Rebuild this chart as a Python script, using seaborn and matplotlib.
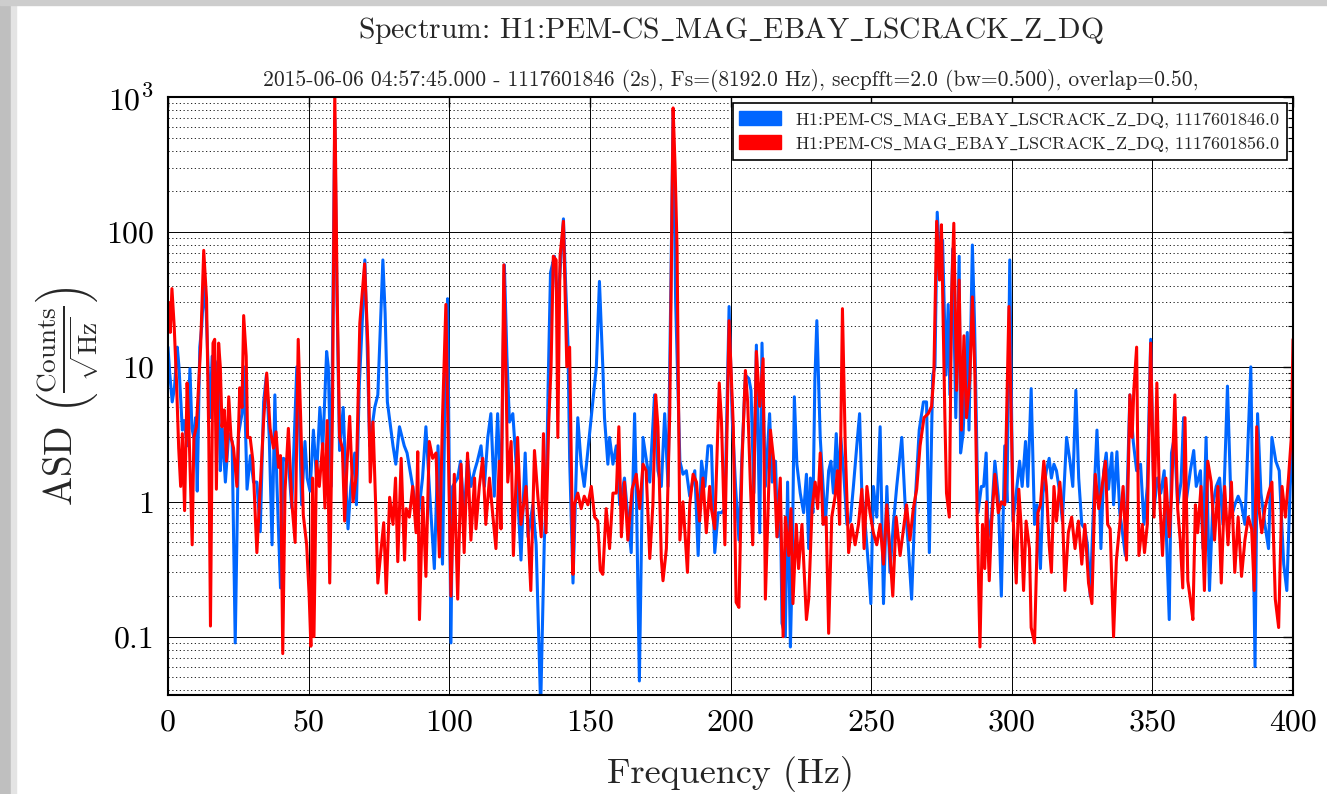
import matplotlib
matplotlib.use("Agg")
import matplotlib.pyplot as plt
from matplotlib.patches import Patch, Rectangle
from matplotlib.ticker import LogLocator, FixedLocator, FixedFormatter, NullFormatter
import seaborn as sns
import pandas as pd

# ---------------- data (frequency Hz, ASD counts/sqrt(Hz)) ----------------
blue_0_100 = [(0.0,14),(0.6,9),(1.5,5.5),(2.3,7),(3.3,14),(3.9,10),(5.1,3.4),(5.8,4),(6.8,2.6),(7.8,9.7),
    (8.5,3.5),(9.2,3),(9.8,4.2),(10.4,1.2),(11.3,14),(12.0,20),(12.7,40),(13.6,25),(14.9,4.2),(15.7,12),
    (16.5,8),(17.7,11),(18.6,1.7),(19.3,3.5),(20.4,1.4),(21.6,3.2),(22.8,2.8),(23.9,0.09),(25.1,3.2),(26.3,4.5),
    (27.0,10),(28.1,1.24),(29.3,2.2),(30.4,1.4),(31.6,1.4),(32.8,0.6),(34.0,5.5),(35.0,8.7),(36.0,3),(37.0,0.48),
    (38.0,6.2),(38.7,1.4),(40.0,0.23),(41.0,2.1),(42.8,2),(44.0,0.9),(45.8,10),(46.6,5),(47.5,0.95),(48.7,2.8),
    (49.5,1.5),(50.5,1.2),(51.7,3.4),(52.8,1.5),(54.0,5),(55.0,2.4),(56.4,13),(57.0,10),(58.0,1.3),(59.3,700),
    (60.1,30),(61.0,2.4),(62.3,5),(63.4,1.16),(64.0,0.63),(65.0,1.3),(66.4,2.3),(67.0,0.95),(68.0,7.2),(69.0,20),
    (70.0,62),(70.8,15),(71.7,2.6),(73.5,5),(74.6,6.2),(75.5,20),(76.4,62),(77.2,25),(78.0,5.5),(80.0,2.6),
    (81.0,1.9),(82.3,3.6),(84.0,2.6),(85.0,2.3),(87.0,1.3),(88.8,0.72),(90.5,1.5),(91.7,3.6),(93.0,1.2),(94.7,0.32),
    (96.0,2.6),(97.6,0.345),(98.6,8),(99.4,32)]
blue_100_200 = [(100.6,0.09),(101.2,1.3),(103.0,1.5),(104.0,2),(105.3,0.77),(106.5,2.1),(107.7,1.3),(109.0,1.7),
    (110.0,2),(111.3,2.6),(112.5,1.3),(113.7,3),(114.8,4.5),(116.0,1.1),(117.2,4.5),(118.4,0.95),(119.6,57),(120.5,12),
    (121.4,3.9),(122.6,4.5),(123.8,1.9),(125.5,0.37),(127.0,2.3),(128.0,0.55),(129.7,0.95),(130.9,0.48),(132.5,0.03),
    (133.8,0.52),(134.4,0.89),(135.2,8),(136.0,50),(137.4,66),(138.4,30),(139.2,44),(140.6,125),(141.4,40),(142.2,15),
    (142.8,2.1),(144.0,0.25),(145.7,4.2),(146.9,1.9),(148.0,1.3),(149.3,2.4),(150.5,4.2),(152.3,10),(153.4,43),
    (154.6,10),(155.2,4.2),(156.4,1.9),(157.0,3),(158.2,1.9),(159.4,2.6),(160.6,0.95),(162.3,1.5),(163.5,0.77),
    (164.7,0.42),(165.9,4.5),(166.5,1.3),(167.6,0.047),(168.9,3),(170.0,2.1),(171.3,1.4),(173.0,6.2),(174.2,1.7),
    (175.4,1.3),(176.6,4.5),(177.8,1.3),(178.8,40),(179.6,800),(180.5,30),(182.0,2),(183.1,1.6),(184.3,1.7),
    (185.5,1.1),(187.3,1.7),(188.5,0.4),(189.7,2),(190.9,1.3),(192.0,2.6),(193.2,2.6),(194.4,0.42),(195.6,0.83),
    (196.8,0.83),(198.0,0.89),(199.5,28)]
blue_200_300 = [(200.6,4.2),(201.8,1.3),(203.0,0.52),(204.0,2),(205.3,8.7),(206.5,8.2),(207.3,6.7),(208.3,1.16),
    (209.2,14.5),(210.4,0.59),(211.2,15),(212.4,1.3),(213.9,4.5),(214.8,1.4),(216.0,2),(216.8,0.55),(217.7,1.16),
    (218.3,0.126),(219.5,0.1),(220.3,1.4),(221.3,0.084),(221.9,0.3),(222.7,6),(223.6,1.9),(224.8,1.16),(226.0,0.83),
    (227.0,1.6),(227.8,0.45),(228.4,1.5),(229.3,0.83),(230.0,8),(230.7,22),(231.9,3),(232.9,1.3),(233.7,0.68),
    (234.9,1.7),(235.7,2),(236.6,1.16),(237.6,3.2),(238.4,1.3),(239.2,3),(240.2,1.7),(241.4,0.68),(242.6,0.72),
    (243.7,1.3),(244.9,2.6),(245.9,4.5),(246.7,1.16),(247.9,0.68),(249.0,0.345),(249.9,0.176),(250.8,1.3),(252.0,0.77),
    (253.2,3.6),(254.4,0.176),(255.6,1.3),(256.7,0.3),(257.9,0.68),(259.1,1.3),(260.9,3),(262.1,0.95),(263.2,0.48),
    (264.4,0.19),(265.6,0.95),(267.1,3.4),(268.6,5.5),(269.7,5.5),(270.7,0.42),(271.9,8.7),(272.7,10),(273.5,140),
    (274.5,54),(275.4,87),(276.6,8.7),(277.4,29),(278.0,6.2),(279.0,75),(280.1,4.2),(281.3,66),(281.8,2.3),(282.7,3.2),
    (284.2,18),(284.8,3.4),(286.0,80),(286.8,20),(288.0,0.83),(289.2,1.3),(290.0,1.3),(290.9,2.3),(291.6,0.55),
    (292.8,0.77),(294.0,2),(295.2,1.1),(296.3,0.2),(297.5,2.6),(298.3,1),(299.3,62)]
blue_300_400 = [(300.4,0.72),(301.6,1.16),(302.8,2),(303.7,1.3),(304.9,2.8),(305.7,1.3),(306.9,6.9),(308.1,0.68),
    (309.0,0.95),(310.2,0.32),(311.1,1.16),(312.3,1.7),(313.3,2.1),(314.1,1.5),(315.0,1.9),(315.9,1.7),(316.9,1.24),
    (318.0,0.72),(319.5,3),(320.7,2),(321.7,1.3),(322.8,6.7),(323.8,1.5),(324.9,0.68),(326.0,0.63),(326.9,0.48),
    (327.9,0.2),(329.1,0.95),(330.3,3.4),(331.2,1.16),(331.7,0.45),(332.7,1.7),(333.6,2.3),(334.4,1.24),(335.6,2.3),
    (336.2,0.95),(337.4,2.35),(338.4,0.83),(339.2,0.63),(340.4,0.4),(342.0,6.2),(343.2,2.8),(344.4,1.7),(345.8,1.9),
    (347.0,0.68),(348.2,1.3),(349.4,16),(350.6,0.89),(351.8,1.5),(353.0,1.16),(354.2,1.7),(356.0,0.134),(356.8,2.3),
    (357.8,3),(359.0,0.95),(360.2,1.4),(361.1,4.2),(362.0,1),(363.5,1.7),(364.7,2.4),(365.6,1.3),(367.1,1.7),
    (368.0,0.45),(369.1,3),(370.3,0.22),(371.5,0.95),(372.7,1.3),(373.9,1.5),(375.1,0.68),(376.7,7.2),(378.1,0.77),
    (379.3,0.95),(380.5,1.1),(381.7,0.95),(382.9,0.68),(385.0,10),(386.5,0.06),(387.4,4.5),(388.6,1.16),(390.0,0.68),
    (391.3,0.45),(392.5,3),(393.9,2),(395.1,1.7),(396.7,0.345),(397.8,0.22),(399.0,1.3),(400.0,3)]

red_0_100 = [(0.3,30),(0.8,18),(1.4,38),(2.2,20),(3.0,8),(3.8,2.5),(4.5,1.3),(5.1,3.2),(5.9,0.86),(6.8,7.6),
    (7.5,3.2),(8.6,0.48),(9.2,3),(10.1,3.6),(11.6,14),(12.7,73),(13.7,32),(14.5,3),(15.1,0.12),(16.0,15),
    (16.6,16),(17.2,1.24),(18.0,15),(18.6,10),(19.2,3.6),(20.0,4.8),(20.8,2),(21.6,6),(22.4,3),(23.3,2.5),
    (24.5,1.3),(25.5,7),(26.3,5),(26.9,24),(27.8,12),(28.3,3),(29.2,3),(30.2,2),(31.6,0.42),(32.8,1.3),
    (34.0,4),(35.1,9),(36.3,3.5),(37.5,2.5),(38.4,3.3),(39.3,1.8),(40.0,2.2),(40.8,0.075),(41.6,1.2),(42.8,3.5),
    (44.0,1),(45.2,0.5),(46.3,16),(47.2,4),(48.1,0.8),(49.3,0.48),(50.2,0.2),(50.8,0.085),(51.4,1.5),(51.9,0.1),
    (52.8,2),(53.8,1.3),(55.0,2.7),(55.8,0.9),(56.6,4),(57.5,0.25),(58.5,5),(59.3,1100),(60.1,40),(61.0,3),
    (62.0,2.5),(62.8,0.72),(63.7,2),(64.6,4.3),(65.8,1),(67.0,1.6),(68.2,21),(69.9,58),(71.1,14),(71.9,1.4),
    (72.9,3.9),(73.8,1),(74.6,0.25),(75.8,0.45),(76.7,0.7),(77.6,0.21),(78.8,1.08),(80.0,0.68),(80.9,1.5),(81.7,0.36),
    (82.9,2.1),(84.1,0.37),(84.7,0.89),(85.8,0.77),(87.0,1.3),(88.2,0.59),(88.8,2.35),(89.4,0.134),(90.6,1.08),
    (91.7,0.28),(92.9,2.8),(94.1,2.1),(95.3,2.3),(96.5,0.39),(97.6,4.2),(98.8,29),(99.6,3)]
red_100_200 = [(100.6,0.2),(101.8,1.6),(103.0,0.19),(104.2,1.9),(105.3,0.42),(106.5,2.3),(107.7,0.52),(109.0,1.5),
    (109.5,0.63),(110.7,1.3),(111.9,2.1),(113.0,0.68),(114.3,1.5),(115.4,0.83),(116.6,0.45),(117.8,2),(118.4,0.63),
    (119.4,57),(120.2,8),(120.8,1.4),(122.0,2.8),(122.8,0.4),(124.3,3),(125.5,0.68),(127.3,1.3),(129.0,0.22),
    (130.3,2.4),(131.5,1.1),(132.7,0.55),(133.5,3.2),(134.4,0.59),(135.4,4),(136.2,10),(137.0,66),(138.0,62),
    (138.6,3),(139.4,66),(140.6,120),(141.8,10),(142.8,14),(144.0,0.29),(144.5,0.95),(145.7,1.16),(146.9,0.89),
    (148.0,1.1),(149.3,0.95),(150.5,1.3),(151.7,0.77),(152.8,0.72),(153.7,0.31),(154.6,0.29),(155.8,0.89),(157.0,0.45),
    (158.2,1.16),(159.4,1.16),(160.3,3.6),(161.2,0.55),(162.3,1.4),(163.5,0.52),(165.0,1.24),(166.5,1.6),(167.7,0.89),
    (168.9,1.9),(170.0,1.7),(171.3,0.38),(172.4,0.95),(173.4,6.2),(174.2,3.6),(175.4,0.38),(176.0,0.26),(177.2,0.45),
    (178.4,4.5),(179.0,60),(179.6,830),(180.3,300),(181.0,75),(182.0,0.52),(183.1,1),(183.7,0.63),(184.7,0.3),
    (185.5,0.95),(186.7,1.6),(187.9,1.4),(189.0,0.72),(190.2,1.5),(191.4,0.59),(192.6,1.3),(193.2,0.89),(194.4,0.63),
    (196.0,7.6),(196.8,3.9),(198.0,0.48),(199.5,22)]
red_200_300 = [(201.0,3.6),(202.0,0.18),(203.0,0.165),(204.1,2),(205.3,9.4),(206.1,5.5),(207.1,1.3),(207.9,0.48),
    (209.2,13),(210.4,5.1),(211.6,11.5),(212.4,0.19),(214.2,3.4),(215.4,2),(216.5,0.55),(217.7,1.5),(218.7,0.1),
    (219.5,0.77),(220.7,0.4),(221.5,0.89),(222.2,0.176),(223.4,0.68),(224.2,0.32),(225.4,0.68),(227.0,0.134),
    (227.8,0.19),(229.0,0.89),(230.1,1.4),(231.0,0.89),(231.9,2.3),(232.9,0.68),(234.0,0.77),(234.9,0.106),(236.0,0.77),
    (237.2,1.1),(238.0,1.7),(238.8,0.68),(239.8,27),(240.8,2.6),(242.0,0.42),(243.1,0.68),(244.3,0.48),(245.5,0.68),
    (246.7,1.24),(247.5,0.45),(248.5,1.3),(249.6,0.83),(250.8,0.59),(252.0,0.48),(253.2,0.68),(254.4,0.345),
    (255.6,0.95),(256.5,0.48),(257.7,0.2),(258.9,0.77),(260.3,0.4),(261.5,0.63),(262.6,0.95),(263.8,0.52),(265.0,0.89),
    (266.2,1.24),(267.4,2.6),(268.8,4.2),(270.3,4.5),(271.5,5.1),(272.3,8.7),(273.3,120),(274.3,44),(275.0,113),
    (276.2,4.5),(276.8,1.16),(277.8,0.77),(278.6,33),(279.4,116),(280.4,6.7),(281.3,44),(282.1,3.4),(283.0,17),
    (283.9,4.2),(285.1,8.2),(286.0,33),(286.9,8.7),(287.7,0.77),(288.7,0.084),(289.6,0.68),(290.4,0.32),(291.0,1),
    (292.0,0.26),(292.8,0.68),(294.0,1.6),(295.2,0.83),(296.3,1),(297.5,0.95),(299.0,28)]
red_300_400 = [(300.6,0.68),(301.6,0.25),(302.5,1.24),(303.3,0.68),(304.2,0.22),(305.1,0.72),(306.3,0.45),(306.9,0.117),
    (308.1,0.09),(309.3,0.83),(310.2,0.95),(311.4,2),(312.3,1.3),(313.3,0.48),(314.1,0.3),(315.0,1.3),(315.9,0.72),
    (317.1,1.4),(318.1,0.77),(318.9,0.22),(320.1,0.59),(321.3,0.77),(322.5,0.45),(323.7,0.72),(324.9,0.345),(326.0,0.68),
    (327.3,0.25),(328.5,0.176),(329.7,1.6),(330.9,0.89),(332.1,1.3),(333.3,2),(334.1,0.68),(335.0,0.63),(336.2,0.1),
    (337.2,0.37),(338.4,0.68),(339.6,1.3),(340.8,0.37),(342.0,6.2),(342.8,3),(343.4,6.7),(344.4,14),(345.2,0.4),
    (346.4,0.68),(347.2,0.42),(348.2,0.68),(349.4,15),(350.6,0.77),(351.6,7.6),(352.4,1.3),(353.6,0.4),(354.8,1.5),
    (356.0,0.55),(356.8,1.1),(358.0,6.2),(359.0,0.89),(359.9,0.52),(360.8,0.23),(361.6,4.2),(362.6,0.26),(363.5,0.19),
    (364.4,0.134),(365.3,0.95),(366.1,0.59),(367.3,1.3),(368.5,0.22),(369.7,2),(370.9,1.4),(372.1,0.52),(373.3,1.3),
    (374.5,0.25),(375.7,1.3),(376.9,0.48),(378.1,1.4),(379.3,0.3),(380.5,0.77),(381.7,0.28),(382.9,0.52),(384.1,0.77),
    (385.3,0.63),(386.2,0.22),(387.1,3.6),(387.9,0.89),(388.9,0.59),(390.0,0.89),(391.3,1.16),(392.5,1.4),(393.7,0.19),
    (394.9,0.117),(396.1,1.3),(397.3,0.77),(398.4,1.5),(399.4,3),(400.0,16)]

channel = "H1:PEM-CS_MAG_EBAY_LSCRACK_Z_DQ"
label_blue = channel + ", 1117601846.0"
label_red = channel + ", 1117601856.0"
title_main = "Spectrum: " + channel
title_sub = ("2015-06-06 04:57:45.000 - 1117601846 (2s), Fs=(8192.0 Hz), "
             "secpfft=2.0 (bw=0.500), overlap=0.50,")
x_ticks = [0, 50, 100, 150, 200, 250, 300, 350, 400]
y_ticks = [0.1, 1, 10, 100, 1000]
y_tick_labels = ["0.1", "1", "10", "100", r"$10^3$"]


def tex_us(s):
    # cmr10 has no underscore glyph: draw it through mathtext like LaTeX's \_
    return s.replace("_", r"$\_$")


# ---------------- build table ----------------
rows = []
for name, seg in [(label_blue, blue_0_100 + blue_100_200 + blue_200_300 + blue_300_400),
                  (label_red, red_0_100 + red_100_200 + red_200_300 + red_300_400)]:
    for f, v in seg:
        rows.append({"freq": f, "asd": v, "series": name})
df = pd.DataFrame(rows)

# ---------------- style ----------------
sns.set_theme(style="white")
plt.rcParams["font.family"] = ["cmr10", "DejaVu Serif"]
plt.rcParams["mathtext.fontset"] = "cm"
plt.rcParams["axes.formatter.use_mathtext"] = True
plt.rcParams["axes.unicode_minus"] = False

colors = {label_blue: "#0066ff", label_red: "#ff0000"}

fig = plt.figure(figsize=(13.27, 7.94), dpi=100)
L, R, B, T = 168/1327, 1293/1327, 1 - 695/794, 1 - 97/794
ax = fig.add_axes([L, B, R - L, T - B])

sns.lineplot(data=df, x="freq", y="asd", hue="series", palette=colors, sort=False,
             estimator=None, linewidth=2.2, legend=False, ax=ax)

ax.set_yscale("log")
ax.set_xlim(0, 400)
ax.set_ylim(0.037, 1000)
ax.xaxis.set_major_locator(FixedLocator(x_ticks))
ax.set_xticklabels([str(t) for t in x_ticks])
ax.yaxis.set_major_locator(FixedLocator(y_ticks))
ax.yaxis.set_major_formatter(FixedFormatter(y_tick_labels))
ax.yaxis.set_minor_locator(LogLocator(base=10, subs=range(2, 10), numticks=20))
ax.yaxis.set_minor_formatter(NullFormatter())

ax.grid(which="major", axis="both", color="black", linestyle="-", linewidth=0.7)
ax.grid(which="minor", axis="y", color="black", linestyle=(0, (1.5, 3)), linewidth=0.6)
ax.set_axisbelow(True)
for sp in ax.spines.values():
    sp.set_color("black")
    sp.set_linewidth(1.5)
ax.tick_params(which="both", direction="in", top=True, right=True, colors="black")
ax.tick_params(which="major", length=7, width=1, labelsize=23, pad=10)
ax.tick_params(which="minor", length=3.5, width=0.8)

ax.set_xlabel("Frequency (Hz)", fontsize=26, labelpad=14)
ax.set_ylabel(r"ASD $\left(\frac{\mathrm{Counts}}{\sqrt{\mathrm{Hz}}}\right)$", fontsize=28, labelpad=4)
ax.set_title(title_sub, fontsize=15.5, pad=8)
fig.text((L + R) / 2, 1 - 31/794, tex_us(title_main), fontsize=21.3, ha="center", va="center")

handles = [Patch(facecolor=colors[label_blue], edgecolor=colors[label_blue], label=tex_us(label_blue)),
           Patch(facecolor=colors[label_red], edgecolor=colors[label_red], label=tex_us(label_red))]
leg = ax.legend(handles=handles, loc="upper right", fontsize=13, frameon=True, fancybox=False,
                edgecolor="black", framealpha=1, borderaxespad=0.35, handlelength=2.3,
                handleheight=0.85, labelspacing=0.25, borderpad=0.35, handletextpad=0.8)
leg.get_frame().set_linewidth(1.2)

# window-edge shading seen in the screenshot
fig.add_artist(Rectangle((0, 0), 11/1327, 1, transform=fig.transFigure, color="#bfbfbf", zorder=0))
fig.add_artist(Rectangle((11/1327, 0), 5/1327, 1, transform=fig.transFigure, color="#e4e4e4", zorder=0))
fig.add_artist(Rectangle((0, 1 - 5/794), 1, 5/794, transform=fig.transFigure, color="#cdcdcd", zorder=0))

fig.savefig("out.png", dpi=100)
